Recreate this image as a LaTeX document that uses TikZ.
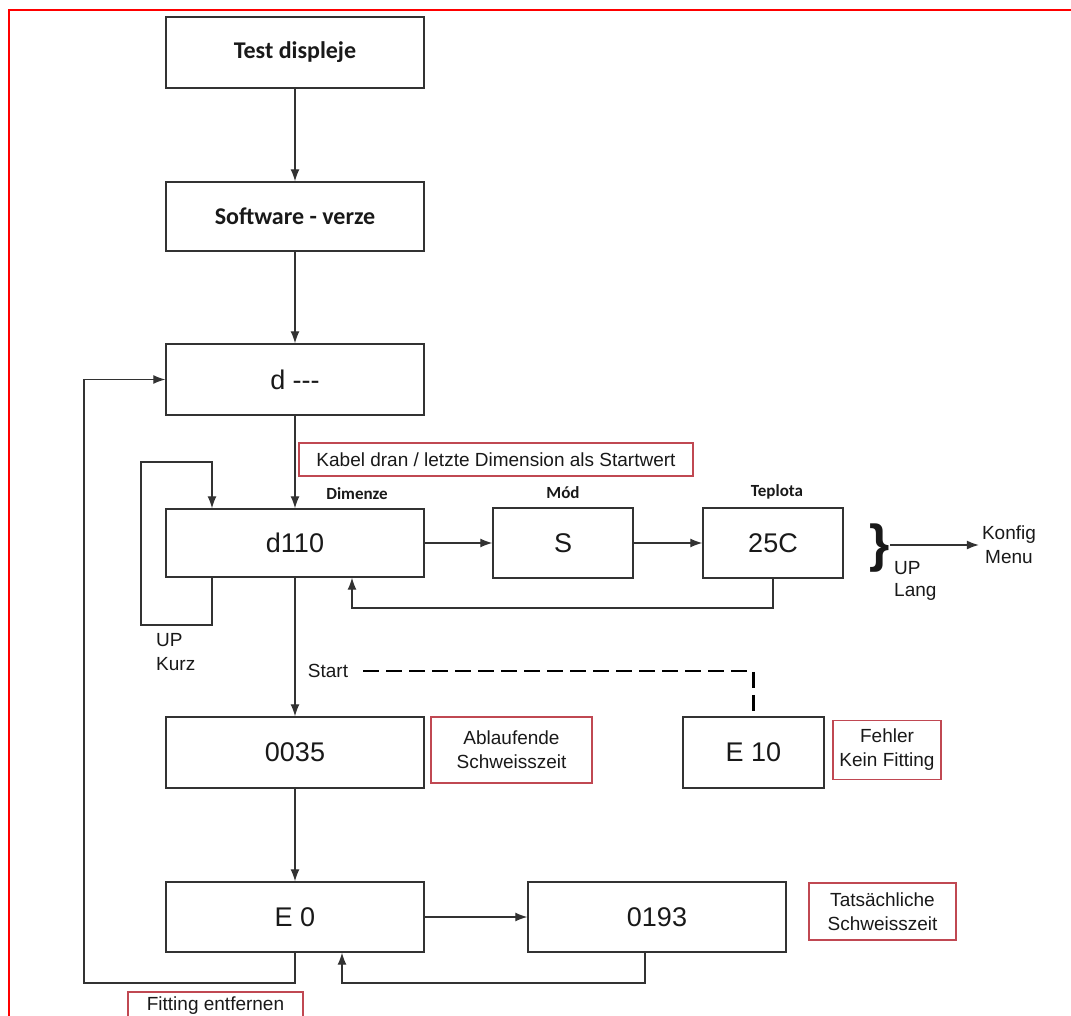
\documentclass[tikz,border=0pt]{standalone}
\usepackage{fontspec}
\setmainfont{Liberation Sans}
\newfontfamily\carl{Carlito}
\usetikzlibrary{arrows.meta}
\definecolor{lc}{RGB}{50,50,50}
\definecolor{tc}{RGB}{25,25,25}
\definecolor{nc}{RGB}{192,72,82}
\begin{document}
\begin{tikzpicture}[x=1pt,y=-1pt,
  lnst/.style={draw=lc, line width=1.3pt},
  arr/.style={lnst, -{Latex[length=12pt,width=9pt]}},
  dsh/.style={draw=black, line width=2.2pt, dash pattern=on 16pt off 7pt},
  box/.style={draw=lc, line width=1.4pt, inner sep=0pt, fill=white, text=tc},
  big/.style={font=\fontsize{27}{30}\selectfont},
  title/.style={font=\carl\bfseries\fontsize{24}{28}\selectfont},
  head/.style={inner sep=0pt, text=tc, font=\carl\bfseries\fontsize{17}{20}\selectfont},
  lab/.style={inner sep=0pt, text=tc, font=\fontsize{19}{24}\selectfont, align=center},
  note/.style={draw=nc, line width=1.2pt, fill=white, inner sep=0pt, text=tc,
    font=\fontsize{19}{24}\selectfont, align=center}
]
\useasboundingbox (0,0) rectangle (1071,1016);
\clip (0,0) rectangle (1071,1016);
\fill[white] (0,0) rectangle (1071,1016);
% red frame
\draw[red, line width=2pt] (9,1030) -- (9,10) -- (1080,10);

% main boxes
\node[box, title, minimum width=258pt, minimum height=71pt] (test) at (295,52.5) {Test displeje};
\node[box, title, minimum width=258pt, minimum height=69pt] (soft) at (295,216.5) {Software - verze};
\node[box, big, minimum width=258pt, minimum height=71pt] (dmm) at (295,379.5) {d -{}-{}-};
\node[box, big, minimum width=258pt, minimum height=68pt] (d110) at (295,543) {d110};
\node[box, big, minimum width=140pt, minimum height=70pt] (smod) at (563,543) {S};
\node[box, big, minimum width=140pt, minimum height=70pt] (t25) at (773,543) {25C};
\node[box, big, minimum width=258pt, minimum height=71pt] (c35) at (295,752.5) {0035};
\node[box, big, minimum width=141pt, minimum height=71pt] (e10) at (753.5,752.5) {E 10};
\node[box, big, minimum width=258pt, minimum height=70pt] (e0) at (295,917) {E 0};
\node[box, big, minimum width=258pt, minimum height=70pt] (e193) at (657,917) {0193};

% headings
\node[head] (hdim) at (357,494) {Dimenze};
\node[head] (hmod) at (563,493) {Mód};
\node[head] (htep) at (777,492) {Teplota};

% notes
\node[note, minimum width=394pt, minimum height=33pt] (kabel) at (496,459.5) {Kabel dran / letzte Dimension als Startwert};
\node[note, minimum width=161pt, minimum height=66pt] (abl) at (511.5,750) {Ablaufende\\Schweisszeit};
\node[note, minimum width=108pt, minimum height=59pt] (fehl) at (887,750) {Fehler\\Kein Fitting};
\node[note, minimum width=147pt, minimum height=57pt] (tats) at (882.5,911.5) {Tatsächliche\\Schweisszeit};
\node[note, minimum width=175pt, minimum height=28pt] (fit) at (215.5,1006) {Fitting entfernen};

% other labels
\node[lab, anchor=west] (up1) at (156,640) {UP};
\node[lab, anchor=west] (kurz) at (156,664) {Kurz};
\node[lab] (start) at (328,671) {Start};
\node[inner sep=0pt, text=tc, font=\bfseries\fontsize{52}{56}\selectfont] (br) at (880,548) {\}};
\node[lab, anchor=west] (up2) at (894,568) {UP};
\node[lab, anchor=west] (lang) at (894,592) {Lang};
\node[lab] (konf) at (1009,545) {Konfig\\Menu};

% coordinates for loops
\coordinate (kl1) at (141,625);
\coordinate (kl2) at (212,462);
\coordinate (r1) at (352,608);
\coordinate (r2) at (342,983);
\coordinate (ml) at (84,983);
\coordinate (x193) at (645,0);

% connectors
\draw[arr] (test.south) -- (soft.north);
\draw[arr] (soft.south) -- (dmm.north);
\draw[arr] (dmm.south) -- (d110.north);
\draw[arr] (d110.south) -- (c35.north);
\draw[arr] (c35.south) -- (e0.north);
\draw[arr] (d110.east) -- (smod.west);
\draw[arr] (smod.east) -- (t25.west);
\draw[arr] (e0.east) -- (e193.west);
\draw[arr] (d110.south -| kl2) |- (kl1) |- (kl2) -- (d110.north -| kl2);
\draw[arr] (t25.south) |- (r1) -- (d110.south -| r1);
\draw[arr] (e193.south -| x193) |- (r2) -- (e0.south -| r2);
\draw[arr] (e0.south) |- (ml) |- (dmm.west);
\draw[arr] (br.east |- konf) -- ([xshift=-3pt]konf.west);
\draw[dsh] ([xshift=15pt]start.east) -| (e10.north);
\end{tikzpicture}
\end{document}
